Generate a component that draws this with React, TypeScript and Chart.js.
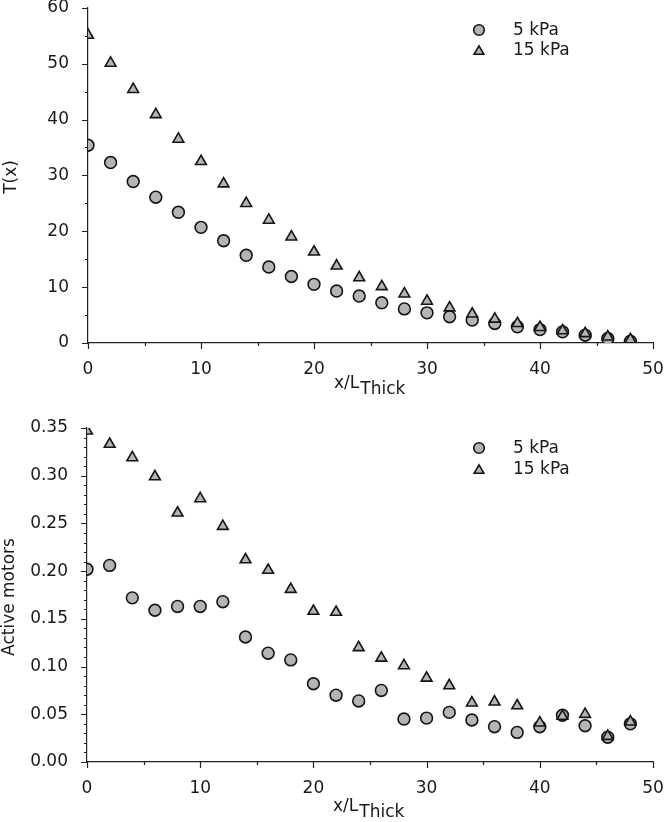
import React, { useEffect, useRef } from 'react';
import { Chart, registerables } from 'chart.js';

Chart.register(...registerables);

const FONT = "'DejaVu Sans', Verdana, sans-serif";
const FILL = '#b4b4b4';
const EDGE = '#141414';
const AXIS = '#222222';

const xPositions = [0, 2, 4, 6, 8, 10, 12, 14, 16, 18, 20, 22, 24, 26, 28, 30, 32, 34, 36, 38, 40, 42, 44, 46, 48];
const seriesLabels = ['5 kPa', '15 kPa'];

const tension5 = [35.4, 32.3, 28.9, 26.1, 23.4, 20.7, 18.3, 15.7, 13.6, 11.9, 10.5, 9.3, 8.4, 7.2, 6.1, 5.4, 4.7, 4.1, 3.5, 2.9, 2.4, 2.0, 1.4, 0.8, 0.3];
const tension15 = [55.1, 50.1, 45.4, 40.9, 36.5, 32.5, 28.5, 25.0, 22.0, 19.0, 16.3, 13.8, 11.7, 10.1, 8.8, 7.5, 6.3, 5.2, 4.3, 3.5, 2.8, 2.2, 1.7, 1.1, 0.6];

const motors5 = [0.202, 0.206, 0.172, 0.159, 0.163, 0.163, 0.168, 0.131, 0.114, 0.107, 0.082, 0.070, 0.064, 0.075, 0.045, 0.046, 0.052, 0.044, 0.037, 0.031, 0.037, 0.049, 0.038, 0.026, 0.040];
const motors15 = [0.347, 0.333, 0.319, 0.299, 0.261, 0.276, 0.247, 0.212, 0.201, 0.181, 0.158, 0.157, 0.120, 0.109, 0.101, 0.088, 0.080, 0.062, 0.063, 0.059, 0.041, 0.048, 0.050, 0.027, 0.042];

const topYTicks = { min: 0, max: 60, step: 10, minor: 5 };
const bottomYTicks = { min: 0, max: 0.35, step: 0.05, minor: 0.01 };
const xTicks = { min: 0, max: 50, step: 10, minor: 5 };

function toPoints(values: number[]) {
  return values.map((v, i) => ({ x: xPositions[i], y: v }));
}

function drawTriangle(ctx: CanvasRenderingContext2D, x: number, y: number, r: number) {
  ctx.beginPath();
  for (let k = 0; k < 3; k++) {
    const a = (k * 2 * Math.PI) / 3;
    const px = x + Math.sin(a) * r;
    const py = y - Math.cos(a) * r;
    if (k === 0) ctx.moveTo(px, py);
    else ctx.lineTo(px, py);
  }
  ctx.closePath();
}

type Deco = {
  yTitle: string;
  yTitleX: number;
  yTitleY: number;
  xTitleX: number;
  xTitleDy: number;
  legendX: number;
  legendY: number;
  legendGap: number;
  yMinor: number;
  yMajor: number;
  xMinor: number;
  xMajor: number;
};

function decoPlugin(d: Deco) {
  return {
    id: 'deco',
    beforeDatasetsDraw(chart: any) {
      const { ctx, chartArea } = chart;
      const xs = chart.scales.x;
      const ys = chart.scales.y;
      ctx.save();
      ctx.strokeStyle = AXIS;
      ctx.lineWidth = 1.2;
      ctx.beginPath();
      const ny = Math.round((ys.max - ys.min) / d.yMinor);
      const ratioY = Math.round(d.yMajor / d.yMinor);
      for (let i = 0; i <= ny; i++) {
        const v = ys.min + i * d.yMinor;
        const py = Math.round(ys.getPixelForValue(v)) + 0.5;
        const len = i % ratioY === 0 ? 6 : 3;
        ctx.moveTo(chartArea.left - len, py);
        ctx.lineTo(chartArea.left, py);
      }
      const nx = Math.round((xs.max - xs.min) / d.xMinor);
      const ratioX = Math.round(d.xMajor / d.xMinor);
      for (let i = 0; i <= nx; i++) {
        const v = xs.min + i * d.xMinor;
        const px = Math.round(xs.getPixelForValue(v)) + 0.5;
        const len = i % ratioX === 0 ? 6 : 3;
        ctx.moveTo(px, chartArea.bottom);
        ctx.lineTo(px, chartArea.bottom + len);
      }
      ctx.stroke();
      ctx.restore();
    },
    afterDraw(chart: any) {
      const { ctx, chartArea } = chart;
      ctx.save();
      ctx.fillStyle = '#1a1a1a';
      // y title
      ctx.save();
      ctx.translate(d.yTitleX, d.yTitleY);
      ctx.rotate(-Math.PI / 2);
      ctx.font = `17px ${FONT}`;
      ctx.textAlign = 'center';
      ctx.textBaseline = 'middle';
      ctx.fillText(d.yTitle, 0, 0);
      ctx.restore();
      // x title with subscript
      const base = chartArea.bottom + d.xTitleDy;
      ctx.font = `17px ${FONT}`;
      ctx.textAlign = 'left';
      ctx.textBaseline = 'alphabetic';
      ctx.fillText('x/L', d.xTitleX, base);
      const w = ctx.measureText('x/L').width;
      ctx.fillText('Thick', d.xTitleX + w + 1, base + 6);
      // legend
      const items = chart.data.datasets;
      items.forEach((ds: any, i: number) => {
        const ly = d.legendY + i * d.legendGap;
        ctx.fillStyle = FILL;
        ctx.strokeStyle = EDGE;
        ctx.lineWidth = 1.6;
        if (ds.pointStyle === 'triangle') {
          drawTriangle(ctx, d.legendX, ly + 1.5, 5.6);
        } else {
          ctx.beginPath();
          ctx.arc(d.legendX, ly, 5.3, 0, Math.PI * 2);
        }
        ctx.fill();
        ctx.stroke();
        ctx.fillStyle = '#1a1a1a';
        ctx.font = `17px ${FONT}`;
        ctx.textBaseline = 'middle';
        ctx.fillText(ds.label, d.legendX + 34, ly + 1);
      });
      ctx.restore();
    },
  };
}

function makeConfig(
  a: number[],
  b: number[],
  yt: { min: number; max: number; step: number; minor: number },
  fmt: (v: number) => string,
  dims: { yWidth: number; xHeight: number; top: number },
  deco: Deco
): any {
  return {
    type: 'scatter',
    data: {
      datasets: [
        {
          label: seriesLabels[0],
          data: toPoints(a),
          pointStyle: 'circle',
          pointRadius: 5.9,
          pointBorderWidth: 1.6,
          backgroundColor: FILL,
          borderColor: EDGE,
          order: 2,
        },
        {
          label: seriesLabels[1],
          data: toPoints(b),
          pointStyle: 'triangle',
          pointRadius: 6.2,
          pointBorderWidth: 1.6,
          backgroundColor: FILL,
          borderColor: EDGE,
          order: 1,
        },
      ],
    },
    options: {
      responsive: false,
      animation: false,
      events: [],
      layout: { padding: { left: 0, right: 13, top: dims.top, bottom: 0 } },
      plugins: { legend: { display: false }, tooltip: { enabled: false } },
      scales: {
        x: {
          type: 'linear',
          min: xTicks.min,
          max: xTicks.max,
          grid: { display: false },
          border: { display: true, color: AXIS, width: 1.2 },
          ticks: {
            stepSize: xTicks.step,
            padding: 8,
            maxRotation: 0,
            color: '#1a1a1a',
            font: { family: FONT, size: 17 },
          },
          afterFit(s: any) {
            s.height = dims.xHeight;
            s.paddingLeft = 0;
            s.paddingRight = 0;
          },
        },
        y: {
          type: 'linear',
          min: yt.min,
          max: yt.max,
          grid: { display: false },
          border: { display: true, color: AXIS, width: 1.2 },
          ticks: {
            stepSize: yt.step,
            padding: 11,
            color: '#1a1a1a',
            font: { family: FONT, size: 17 },
            callback: (v: any) => fmt(Number(v)),
          },
          afterFit(s: any) {
            s.width = dims.yWidth;
            s.paddingTop = 0;
            s.paddingBottom = 0;
          },
        },
      },
    },
    plugins: [decoPlugin(deco)],
  };
}

export default function App() {
  const ref1 = useRef<HTMLCanvasElement>(null);
  const ref2 = useRef<HTMLCanvasElement>(null);

  useEffect(() => {
    document.body.style.margin = '0';
    const c1 = new Chart(
      ref1.current as HTMLCanvasElement,
      makeConfig(
        tension5,
        tension15,
        topYTicks,
        (v) => String(Math.round(v)),
        { yWidth: 88, xHeight: 57, top: 7 },
        {
          yTitle: 'T(x)',
          yTitleX: 12,
          yTitleY: 177,
          xTitleX: 334,
          xTitleDy: 45,
          legendX: 479,
          legendY: 30,
          legendGap: 20,
          yMinor: topYTicks.minor,
          yMajor: topYTicks.step,
          xMinor: xTicks.minor,
          xMajor: xTicks.step,
        }
      )
    );
    const c2 = new Chart(
      ref2.current as HTMLCanvasElement,
      makeConfig(
        motors5,
        motors15,
        bottomYTicks,
        (v) => v.toFixed(2),
        { yWidth: 87, xHeight: 60, top: 28 },
        {
          yTitle: 'Active motors',
          yTitleX: 10,
          yTitleY: 197,
          xTitleX: 333,
          xTitleDy: 49,
          legendX: 479,
          legendY: 48,
          legendGap: 21,
          yMinor: bottomYTicks.minor,
          yMajor: bottomYTicks.step,
          xMinor: xTicks.minor,
          xMajor: xTicks.step,
        }
      )
    );
    return () => {
      c1.destroy();
      c2.destroy();
    };
  }, []);

  return (
    <div style={{ width: 666, height: 822, background: '#ffffff' }}>
      <canvas ref={ref1} width={666} height={400} style={{ display: 'block' }} />
      <canvas ref={ref2} width={666} height={422} style={{ display: 'block' }} />
    </div>
  );
}
